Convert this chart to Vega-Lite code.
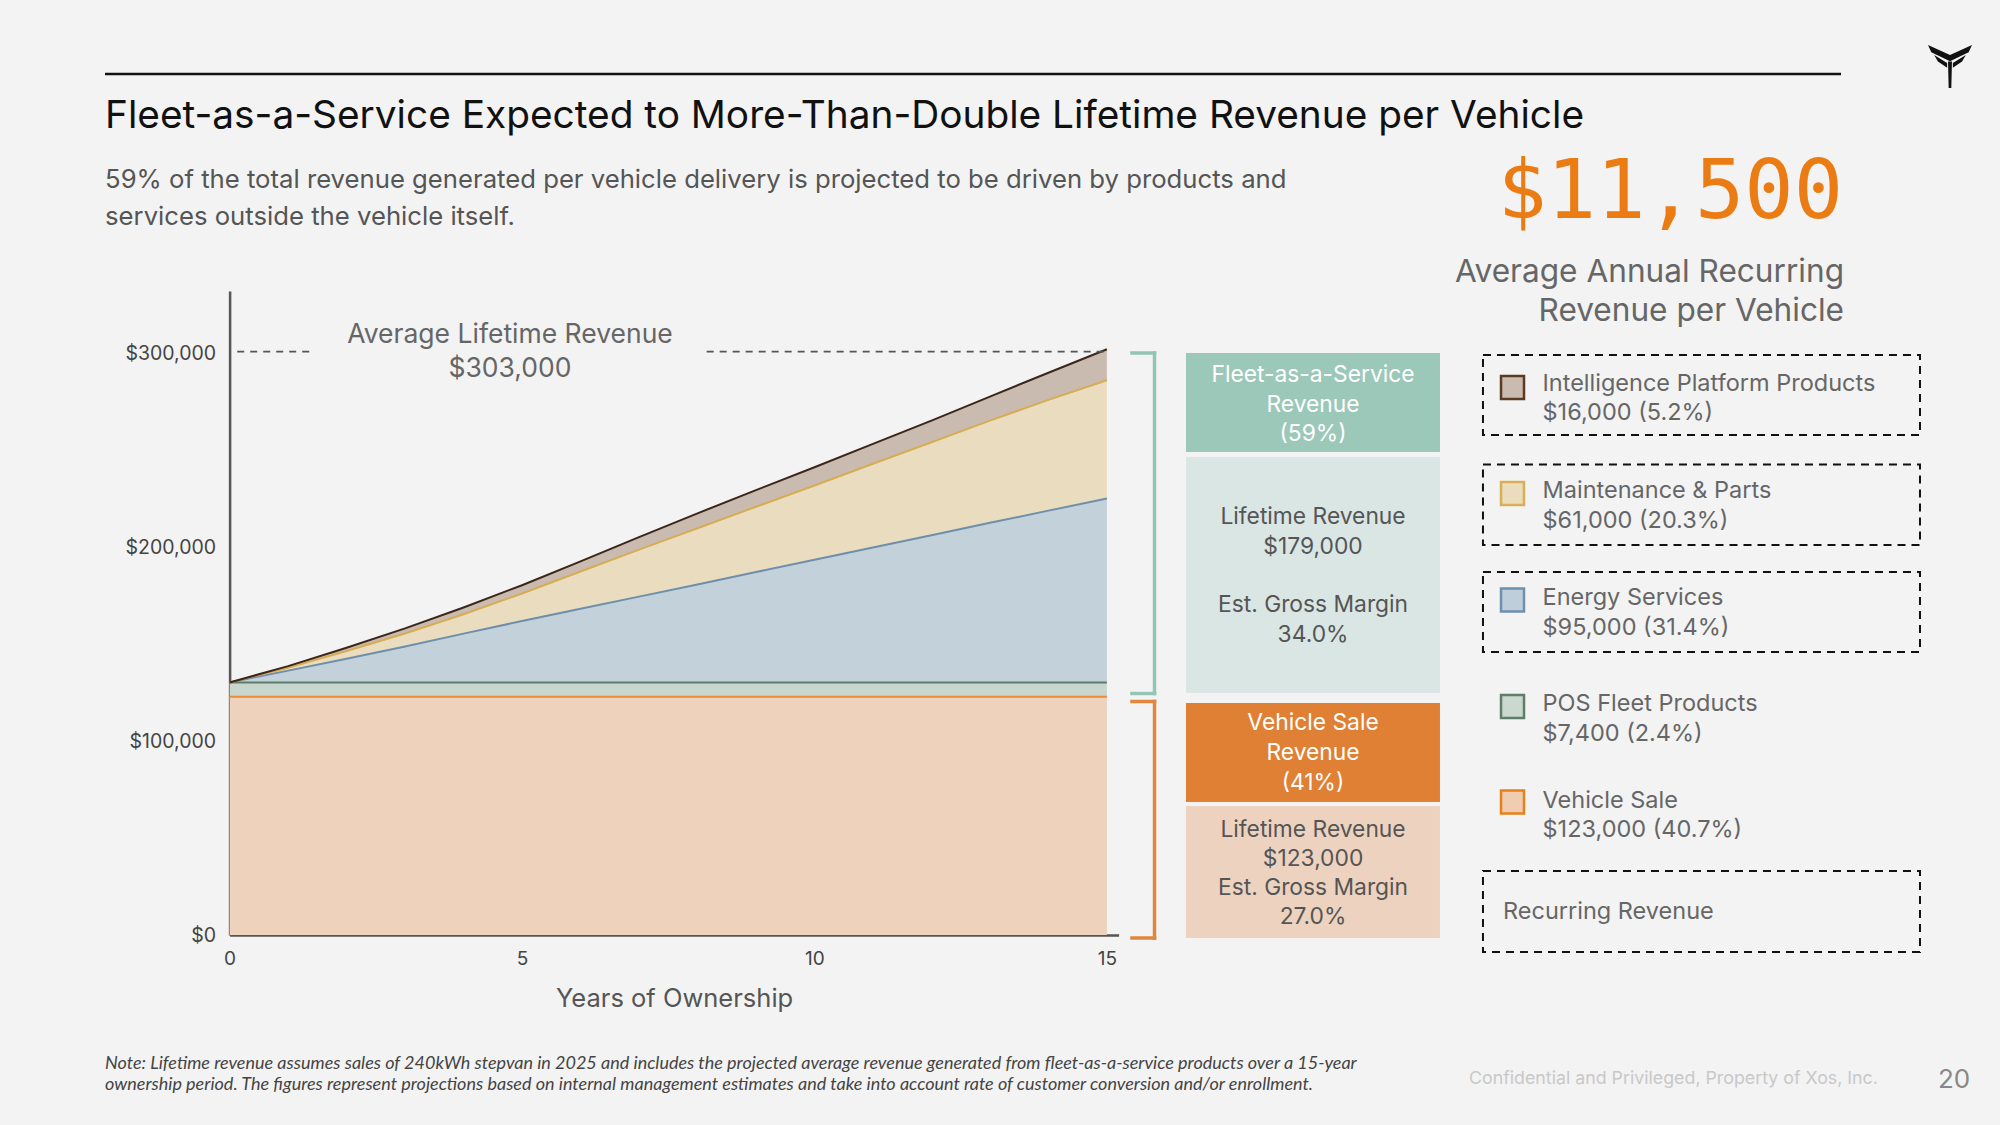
{
  "$schema": "https://vega.github.io/schema/vega-lite/v6.json",
  "width": 889,
  "height": 644,
  "autosize": {"type": "none"},
  "padding": {"left": 229.6, "top": 291, "right": 881.4, "bottom": 190},
  "background": "#F3F3F3",
  "config": {"view": {"stroke": null}, "font": "Inter", "axis": {"title": null}},
  "datasets": {
    "categories": [
      {"series": "Vehicle Sale", "stackOrder": 1},
      {"series": "POS Fleet Products", "stackOrder": 2},
      {"series": "Energy Services", "stackOrder": 3},
      {"series": "Maintenance & Parts", "stackOrder": 4},
      {"series": "Intelligence Platform Products", "stackOrder": 5}
    ],
    "revenue": [
      {"year": 0, "series": "Vehicle Sale", "value": 123000},
      {"year": 1, "series": "Vehicle Sale", "value": 123000},
      {"year": 2, "series": "Vehicle Sale", "value": 123000},
      {"year": 3, "series": "Vehicle Sale", "value": 123000},
      {"year": 4, "series": "Vehicle Sale", "value": 123000},
      {"year": 5, "series": "Vehicle Sale", "value": 123000},
      {"year": 6, "series": "Vehicle Sale", "value": 123000},
      {"year": 7, "series": "Vehicle Sale", "value": 123000},
      {"year": 8, "series": "Vehicle Sale", "value": 123000},
      {"year": 9, "series": "Vehicle Sale", "value": 123000},
      {"year": 10, "series": "Vehicle Sale", "value": 123000},
      {"year": 11, "series": "Vehicle Sale", "value": 123000},
      {"year": 12, "series": "Vehicle Sale", "value": 123000},
      {"year": 13, "series": "Vehicle Sale", "value": 123000},
      {"year": 14, "series": "Vehicle Sale", "value": 123000},
      {"year": 15, "series": "Vehicle Sale", "value": 123000},
      {"year": 0, "series": "POS Fleet Products", "value": 7400},
      {"year": 1, "series": "POS Fleet Products", "value": 7400},
      {"year": 2, "series": "POS Fleet Products", "value": 7400},
      {"year": 3, "series": "POS Fleet Products", "value": 7400},
      {"year": 4, "series": "POS Fleet Products", "value": 7400},
      {"year": 5, "series": "POS Fleet Products", "value": 7400},
      {"year": 6, "series": "POS Fleet Products", "value": 7400},
      {"year": 7, "series": "POS Fleet Products", "value": 7400},
      {"year": 8, "series": "POS Fleet Products", "value": 7400},
      {"year": 9, "series": "POS Fleet Products", "value": 7400},
      {"year": 10, "series": "POS Fleet Products", "value": 7400},
      {"year": 11, "series": "POS Fleet Products", "value": 7400},
      {"year": 12, "series": "POS Fleet Products", "value": 7400},
      {"year": 13, "series": "POS Fleet Products", "value": 7400},
      {"year": 14, "series": "POS Fleet Products", "value": 7400},
      {"year": 15, "series": "POS Fleet Products", "value": 7400},
      {"year": 0, "series": "Energy Services", "value": 0},
      {"year": 1, "series": "Energy Services", "value": 6100},
      {"year": 2, "series": "Energy Services", "value": 12200},
      {"year": 3, "series": "Energy Services", "value": 18600},
      {"year": 4, "series": "Energy Services", "value": 25200},
      {"year": 5, "series": "Energy Services", "value": 31700},
      {"year": 6, "series": "Energy Services", "value": 38000},
      {"year": 7, "series": "Energy Services", "value": 44300},
      {"year": 8, "series": "Energy Services", "value": 50600},
      {"year": 9, "series": "Energy Services", "value": 57000},
      {"year": 10, "series": "Energy Services", "value": 63300},
      {"year": 11, "series": "Energy Services", "value": 69700},
      {"year": 12, "series": "Energy Services", "value": 76000},
      {"year": 13, "series": "Energy Services", "value": 82400},
      {"year": 14, "series": "Energy Services", "value": 88700},
      {"year": 15, "series": "Energy Services", "value": 95000},
      {"year": 0, "series": "Maintenance & Parts", "value": 0},
      {"year": 1, "series": "Maintenance & Parts", "value": 1500},
      {"year": 2, "series": "Maintenance & Parts", "value": 4000},
      {"year": 3, "series": "Maintenance & Parts", "value": 6700},
      {"year": 4, "series": "Maintenance & Parts", "value": 10000},
      {"year": 5, "series": "Maintenance & Parts", "value": 14200},
      {"year": 6, "series": "Maintenance & Parts", "value": 19300},
      {"year": 7, "series": "Maintenance & Parts", "value": 24300},
      {"year": 8, "series": "Maintenance & Parts", "value": 29000},
      {"year": 9, "series": "Maintenance & Parts", "value": 33700},
      {"year": 10, "series": "Maintenance & Parts", "value": 38400},
      {"year": 11, "series": "Maintenance & Parts", "value": 43200},
      {"year": 12, "series": "Maintenance & Parts", "value": 48000},
      {"year": 13, "series": "Maintenance & Parts", "value": 52800},
      {"year": 14, "series": "Maintenance & Parts", "value": 57200},
      {"year": 15, "series": "Maintenance & Parts", "value": 61000},
      {"year": 0, "series": "Intelligence Platform Products", "value": 0},
      {"year": 1, "series": "Intelligence Platform Products", "value": 800},
      {"year": 2, "series": "Intelligence Platform Products", "value": 1700},
      {"year": 3, "series": "Intelligence Platform Products", "value": 2600},
      {"year": 4, "series": "Intelligence Platform Products", "value": 3500},
      {"year": 5, "series": "Intelligence Platform Products", "value": 4300},
      {"year": 6, "series": "Intelligence Platform Products", "value": 5200},
      {"year": 7, "series": "Intelligence Platform Products", "value": 6400},
      {"year": 8, "series": "Intelligence Platform Products", "value": 7700},
      {"year": 9, "series": "Intelligence Platform Products", "value": 8600},
      {"year": 10, "series": "Intelligence Platform Products", "value": 9400},
      {"year": 11, "series": "Intelligence Platform Products", "value": 10300},
      {"year": 12, "series": "Intelligence Platform Products", "value": 11200},
      {"year": 13, "series": "Intelligence Platform Products", "value": 12400},
      {"year": 14, "series": "Intelligence Platform Products", "value": 14000},
      {"year": 15, "series": "Intelligence Platform Products", "value": 16000}
    ]
  },
  "layer": [
    {
      "data": {"name": "revenue"},
      "transform": [
        {"lookup": "series", "from": {"data": {"name": "categories"}, "key": "series", "fields": ["stackOrder"]}},
        {"stack": "value", "groupby": ["year"], "sort": [{"field": "stackOrder", "order": "ascending"}], "as": ["v0", "v1"], "offset": "zero"}
      ],
      "layer": [
        {
          "mark": {"type": "area", "opacity": 1},
          "encoding": {
            "x": {"field": "year", "type": "quantitative", "scale": {"domain": [0, 15.2], "nice": false},
              "axis": {"values": [0, 5, 10, 15], "format": "d", "ticks": false, "grid": false, "domainColor": "#555555", "domainWidth": 2.5, "labelFontSize": 19, "labelColor": "#444444", "labelPadding": 14, "labelFlush": false, "title": "Years of Ownership", "titleFontSize": 25.5, "titleColor": "#555555", "titleFontWeight": "normal", "titlePadding": 18}},
            "y": {"field": "v1", "type": "quantitative", "scale": {"domain": [0, 332500], "nice": false},
              "axis": {"values": [0, 100000, 200000, 300000], "format": "$,.0f", "ticks": false, "grid": false, "domainColor": "#555555", "domainWidth": 2.5, "labelFontSize": 19.5, "labelColor": "#444444", "labelPadding": 14, "title": null}},
            "y2": {"field": "v0"},
            "color": {"field": "series", "type": "nominal",
              "scale": {"domain": ["Vehicle Sale", "POS Fleet Products", "Energy Services", "Maintenance & Parts", "Intelligence Platform Products"],
                        "range": ["#EED2BC", "#C9D6CE", "#C3D1DB", "#EADDBF", "#CABBB1"]},
              "legend": null}
          }
        },
        {
          "mark": {"type": "line", "strokeWidth": 2},
          "encoding": {
            "x": {"field": "year", "type": "quantitative"},
            "y": {"field": "v1", "type": "quantitative", "title": null},
            "stroke": {"field": "series", "type": "nominal",
              "scale": {"domain": ["Vehicle Sale", "POS Fleet Products", "Energy Services", "Maintenance & Parts", "Intelligence Platform Products"],
                        "range": ["#EA8A3C", "#5C7E6A", "#6E8FAA", "#D6AC55", "#3C2618"]},
              "legend": null}
          }
        }
      ]
    },
    {
      "data": {"values": [{}]},
      "mark": {"type": "rule", "stroke": "#111111", "strokeWidth": 2.5},
      "encoding": {"x": {"datum": -2.13}, "x2": {"datum": 27.552}, "y": {"datum": 444534}}
    },
    {
      "data": {"values": [{"label": "Fleet-as-a-Service Expected to More-Than-Double Lifetime Revenue per Vehicle"}]},
      "mark": {"type": "text", "align": "left", "baseline": "middle", "fontSize": 38.8, "color": "#111111"},
      "encoding": {"x": {"datum": -2.13}, "y": {"datum": 422850}, "text": {"field": "label"}}
    },
    {
      "data": {"values": [{"label": "59% of the total revenue generated per vehicle delivery is projected to be driven by products and\nservices outside the vehicle itself."}]},
      "mark": {"type": "text", "align": "left", "baseline": "middle", "fontSize": 25.7, "lineHeight": 37, "lineBreak": "\n", "color": "#555555"},
      "encoding": {"x": {"datum": -2.13}, "y": {"datum": 389807}, "text": {"field": "label"}}
    },
    {
      "data": {"values": [{"label": "$11,500"}]},
      "mark": {"type": "text", "align": "right", "baseline": "middle", "fontSize": 82, "font": "DejaVu Sans Mono", "color": "#EB7C14"},
      "encoding": {"x": {"datum": 27.586}, "y": {"datum": 383095}, "text": {"field": "label"}}
    },
    {
      "data": {"values": [{"label": "Average Annual Recurring\nRevenue per Vehicle"}]},
      "mark": {"type": "text", "align": "right", "baseline": "middle", "fontSize": 31.6, "lineHeight": 39, "lineBreak": "\n", "color": "#666666"},
      "encoding": {"x": {"datum": 27.603}, "y": {"datum": 341791}, "text": {"field": "label"}}
    },
    {
      "data": {"values": [{}]},
      "mark": {"type": "point", "filled": true, "fill": "#111111", "strokeWidth": 0, "opacity": 1, "size": 1936,
        "shape": "M-1,-0.95 L0,-0.5 L1,-0.95 L0.85,-0.62 L0,-0.22 L-0.85,-0.62 Z M-0.72,-0.5 L-0.13,-0.14 L-0.13,0.08 L-0.55,-0.2 Z M0.72,-0.5 L0.13,-0.14 L0.13,0.08 L0.55,-0.2 Z M-0.09,-0.2 L0.09,-0.2 L0.06,1 L-0.06,1 Z"},
      "encoding": {"x": {"datum": 29.415}, "y": {"datum": 448665}}
    },
    {
      "data": {"values": [{"label": "Average Lifetime Revenue\n$303,000"}]},
      "mark": {"type": "text", "align": "center", "baseline": "middle", "fontSize": 26.5, "lineHeight": 34, "lineBreak": "\n", "color": "#666666"},
      "encoding": {"x": {"datum": 4.794}, "y": {"datum": 309780}, "text": {"field": "label"}}
    },
    {
      "data": {"values": [{}]},
      "mark": {"type": "rule", "stroke": "#555555", "strokeWidth": 1.8, "strokeDash": [7, 6]},
      "encoding": {"x": {"datum": 0.13}, "x2": {"datum": 1.44}, "y": {"datum": 301200}}
    },
    {
      "data": {"values": [{}]},
      "mark": {"type": "rule", "stroke": "#555555", "strokeWidth": 1.8, "strokeDash": [7, 6]},
      "encoding": {"x": {"datum": 8.157}, "x2": {"datum": 15}, "y": {"datum": 301200}}
    },
    {
      "data": {"values": [{}]},
      "mark": {"type": "rule", "stroke": "#93C5B5", "strokeWidth": 3.5, "strokeCap": "square"},
      "encoding": {"x": {"datum": 15.814}, "y": {"datum": 300487}, "y2": {"datum": 124686}}
    },
    {
      "data": {"values": [{}]},
      "mark": {"type": "rule", "stroke": "#93C5B5", "strokeWidth": 3.5, "strokeCap": "square"},
      "encoding": {"x": {"datum": 15.429}, "x2": {"datum": 15.814}, "y": {"datum": 300487}}
    },
    {
      "data": {"values": [{}]},
      "mark": {"type": "rule", "stroke": "#93C5B5", "strokeWidth": 3.5, "strokeCap": "square"},
      "encoding": {"x": {"datum": 15.429}, "x2": {"datum": 15.814}, "y": {"datum": 124686}}
    },
    {
      "data": {"values": [{}]},
      "mark": {"type": "rule", "stroke": "#E0873F", "strokeWidth": 3.5, "strokeCap": "square"},
      "encoding": {"x": {"datum": 15.814}, "y": {"datum": 120556}, "y2": {"datum": -1549}}
    },
    {
      "data": {"values": [{}]},
      "mark": {"type": "rule", "stroke": "#E0873F", "strokeWidth": 3.5, "strokeCap": "square"},
      "encoding": {"x": {"datum": 15.429}, "x2": {"datum": 15.814}, "y": {"datum": 120556}}
    },
    {
      "data": {"values": [{}]},
      "mark": {"type": "rule", "stroke": "#E0873F", "strokeWidth": 3.5, "strokeCap": "square"},
      "encoding": {"x": {"datum": 15.429}, "x2": {"datum": 15.814}, "y": {"datum": -1549}}
    },
    {
      "data": {"values": [{}]},
      "mark": {"type": "rect", "fill": "#9CC8BA"},
      "encoding": {"x": {"datum": 16.352}, "x2": {"datum": 20.695}, "y": {"datum": 300487}, "y2": {"datum": 249373}}
    },
    {
      "data": {"values": [{}]},
      "mark": {"type": "rect", "fill": "#DAE6E3"},
      "encoding": {"x": {"datum": 16.352}, "x2": {"datum": 20.695}, "y": {"datum": 246791}, "y2": {"datum": 124945}}
    },
    {
      "data": {"values": [{}]},
      "mark": {"type": "rect", "fill": "#E08035"},
      "encoding": {"x": {"datum": 16.352}, "x2": {"datum": 20.695}, "y": {"datum": 119782}, "y2": {"datum": 68668}}
    },
    {
      "data": {"values": [{}]},
      "mark": {"type": "rect", "fill": "#EDD3BF"},
      "encoding": {"x": {"datum": 16.352}, "x2": {"datum": 20.695}, "y": {"datum": 66603}, "y2": {"datum": -1549}}
    },
    {
      "data": {"values": [{"label": "Fleet-as-a-Service\nRevenue\n(59%)"}]},
      "mark": {"type": "text", "align": "center", "baseline": "middle", "fontSize": 22.8, "lineHeight": 29.5, "lineBreak": "\n", "color": "#FFFFFF"},
      "encoding": {"x": {"datum": 18.524}, "y": {"datum": 289128}, "text": {"field": "label"}}
    },
    {
      "data": {"values": [{"label": "Lifetime Revenue\n$179,000"}]},
      "mark": {"type": "text", "align": "center", "baseline": "middle", "fontSize": 22.8, "lineHeight": 29.5, "lineBreak": "\n", "color": "#555555"},
      "encoding": {"x": {"datum": 18.524}, "y": {"datum": 215813}, "text": {"field": "label"}}
    },
    {
      "data": {"values": [{"label": "Est. Gross Margin\n34.0%"}]},
      "mark": {"type": "text", "align": "center", "baseline": "middle", "fontSize": 22.8, "lineHeight": 29.5, "lineBreak": "\n", "color": "#555555"},
      "encoding": {"x": {"datum": 18.524}, "y": {"datum": 170379}, "text": {"field": "label"}}
    },
    {
      "data": {"values": [{"label": "Vehicle Sale\nRevenue\n(41%)"}]},
      "mark": {"type": "text", "align": "center", "baseline": "middle", "fontSize": 22.8, "lineHeight": 30, "lineBreak": "\n", "color": "#FFFFFF"},
      "encoding": {"x": {"datum": 18.524}, "y": {"datum": 109456}, "text": {"field": "label"}}
    },
    {
      "data": {"values": [{"label": "Lifetime Revenue\n$123,000\nEst. Gross Margin\n27.0%"}]},
      "mark": {"type": "text", "align": "center", "baseline": "middle", "fontSize": 22.8, "lineHeight": 29, "lineBreak": "\n", "color": "#555555"},
      "encoding": {"x": {"datum": 18.524}, "y": {"datum": 54212}, "text": {"field": "label"}}
    },
    {
      "data": {"values": [{}]},
      "mark": {"type": "rect", "fill": null, "fillOpacity": 0, "stroke": "#111111", "strokeWidth": 2, "strokeDash": [8, 6]},
      "encoding": {"x": {"datum": 21.43}, "x2": {"datum": 28.902}, "y": {"datum": 299454}, "y2": {"datum": 258150}}
    },
    {
      "data": {"values": [{}]},
      "mark": {"type": "rect", "fill": null, "fillOpacity": 0, "stroke": "#111111", "strokeWidth": 2, "strokeDash": [8, 6]},
      "encoding": {"x": {"datum": 21.43}, "x2": {"datum": 28.902}, "y": {"datum": 242919}, "y2": {"datum": 201357}}
    },
    {
      "data": {"values": [{}]},
      "mark": {"type": "rect", "fill": null, "fillOpacity": 0, "stroke": "#111111", "strokeWidth": 2, "strokeDash": [8, 6]},
      "encoding": {"x": {"datum": 21.43}, "x2": {"datum": 28.902}, "y": {"datum": 187417}, "y2": {"datum": 146113}}
    },
    {
      "data": {"values": [{}]},
      "mark": {"type": "rect", "fill": null, "fillOpacity": 0, "stroke": "#111111", "strokeWidth": 2, "strokeDash": [8, 6]},
      "encoding": {"x": {"datum": 21.43}, "x2": {"datum": 28.902}, "y": {"datum": 33043}, "y2": {"datum": -8777}}
    },
    {
      "data": {"values": [{}]},
      "mark": {"type": "point", "shape": "square", "size": 529, "filled": true, "opacity": 1, "fill": "#CABBB1", "stroke": "#5B3A22", "strokeWidth": 2.5},
      "encoding": {"x": {"datum": 21.935}, "y": {"datum": 282674}}
    },
    {
      "data": {"values": [{}]},
      "mark": {"type": "point", "shape": "square", "size": 529, "filled": true, "opacity": 1, "fill": "#EADCBC", "stroke": "#D9AE55", "strokeWidth": 2.5},
      "encoding": {"x": {"datum": 21.935}, "y": {"datum": 227946}}
    },
    {
      "data": {"values": [{}]},
      "mark": {"type": "point", "shape": "square", "size": 529, "filled": true, "opacity": 1, "fill": "#BFCEDB", "stroke": "#6F8FB0", "strokeWidth": 2.5},
      "encoding": {"x": {"datum": 21.935}, "y": {"datum": 172961}}
    },
    {
      "data": {"values": [{}]},
      "mark": {"type": "point", "shape": "square", "size": 529, "filled": true, "opacity": 1, "fill": "#CBD8D0", "stroke": "#5E7E6A", "strokeWidth": 2.5},
      "encoding": {"x": {"datum": 21.935}, "y": {"datum": 117975}}
    },
    {
      "data": {"values": [{}]},
      "mark": {"type": "point", "shape": "square", "size": 529, "filled": true, "opacity": 1, "fill": "#F0CDB0", "stroke": "#E8801A", "strokeWidth": 2.5},
      "encoding": {"x": {"datum": 21.935}, "y": {"datum": 68668}}
    },
    {
      "data": {"values": [{"label": "Intelligence Platform Products\n$16,000 (5.2%)"}]},
      "mark": {"type": "text", "align": "left", "baseline": "middle", "fontSize": 23.5, "lineHeight": 29.5, "lineBreak": "\n", "color": "#666666"},
      "encoding": {"x": {"datum": 22.448}, "y": {"datum": 284739}, "text": {"field": "label"}}
    },
    {
      "data": {"values": [{"label": "Maintenance & Parts\n$61,000 (20.3%)"}]},
      "mark": {"type": "text", "align": "left", "baseline": "middle", "fontSize": 23.5, "lineHeight": 29.5, "lineBreak": "\n", "color": "#666666"},
      "encoding": {"x": {"datum": 22.448}, "y": {"datum": 229237}, "text": {"field": "label"}}
    },
    {
      "data": {"values": [{"label": "Energy Services\n$95,000 (31.4%)"}]},
      "mark": {"type": "text", "align": "left", "baseline": "middle", "fontSize": 23.5, "lineHeight": 29.5, "lineBreak": "\n", "color": "#666666"},
      "encoding": {"x": {"datum": 22.448}, "y": {"datum": 173993}, "text": {"field": "label"}}
    },
    {
      "data": {"values": [{"label": "POS Fleet Products\n$7,400 (2.4%)"}]},
      "mark": {"type": "text", "align": "left", "baseline": "middle", "fontSize": 23.5, "lineHeight": 29.5, "lineBreak": "\n", "color": "#666666"},
      "encoding": {"x": {"datum": 22.448}, "y": {"datum": 119265}, "text": {"field": "label"}}
    },
    {
      "data": {"values": [{"label": "Vehicle Sale\n$123,000 (40.7%)"}]},
      "mark": {"type": "text", "align": "left", "baseline": "middle", "fontSize": 23.5, "lineHeight": 29.5, "lineBreak": "\n", "color": "#666666"},
      "encoding": {"x": {"datum": 22.448}, "y": {"datum": 69442}, "text": {"field": "label"}}
    },
    {
      "data": {"values": [{"label": "Recurring Revenue"}]},
      "mark": {"type": "text", "align": "left", "baseline": "middle", "fontSize": 23.5, "color": "#666666"},
      "encoding": {"x": {"datum": 21.772}, "y": {"datum": 11875}, "text": {"field": "label"}}
    },
    {
      "data": {"values": [{"label": "Note: Lifetime revenue assumes sales of 240kWh stepvan in 2025 and includes the projected average revenue generated from fleet-as-a-service products over a 15-year\nownership period. The figures represent projections based on internal management estimates and take into account rate of customer conversion and/or enrollment."}]},
      "mark": {"type": "text", "align": "left", "baseline": "middle", "fontSize": 18, "font": "Lato", "fontStyle": "italic", "lineHeight": 21.5, "lineBreak": "\n", "color": "#444444"},
      "encoding": {"x": {"datum": -2.13}, "y": {"datum": -66603}, "text": {"field": "label"}}
    },
    {
      "data": {"values": [{"label": "Confidential and Privileged, Property of Xos, Inc."}]},
      "mark": {"type": "text", "align": "center", "baseline": "middle", "fontSize": 17.8, "color": "#C8C8C8"},
      "encoding": {"x": {"datum": 24.687}, "y": {"datum": -74347}, "text": {"field": "label"}}
    },
    {
      "data": {"values": [{"label": "20"}]},
      "mark": {"type": "text", "align": "center", "baseline": "middle", "fontSize": 26, "color": "#888888"},
      "encoding": {"x": {"datum": 29.484}, "y": {"datum": -74864}, "text": {"field": "label"}}
    }
  ]
}
